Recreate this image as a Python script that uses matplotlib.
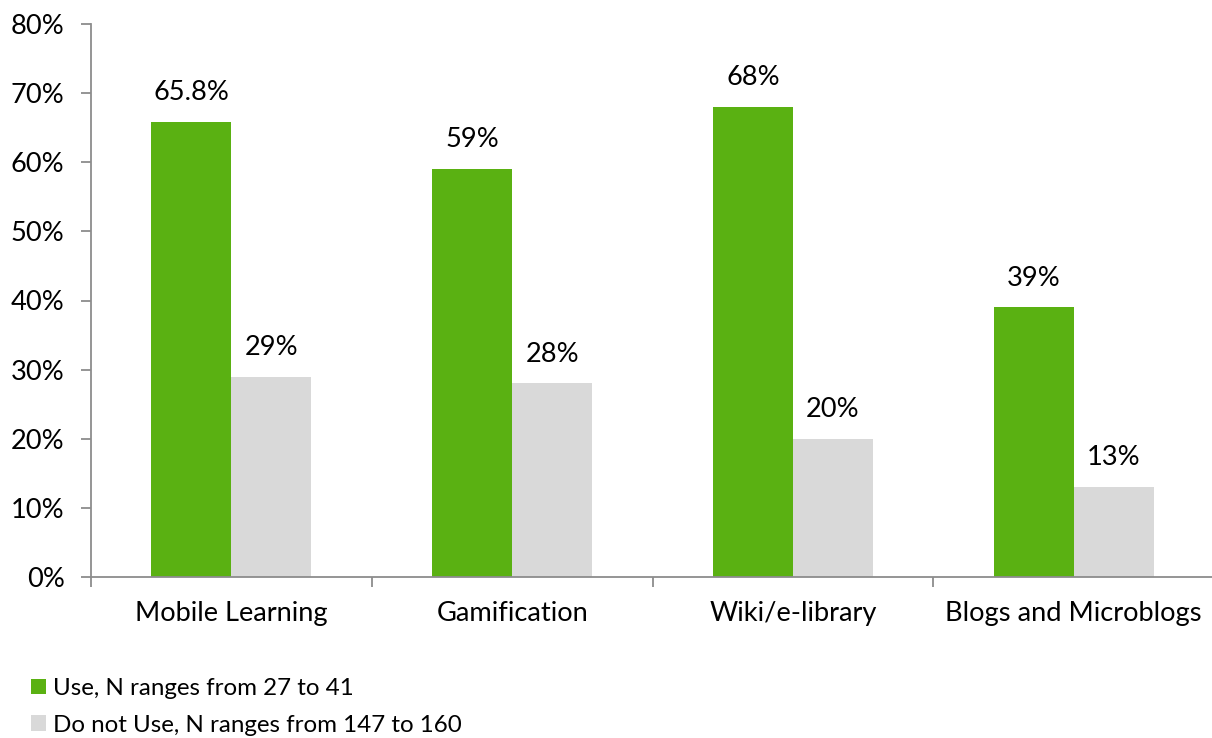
import matplotlib
matplotlib.use("Agg")
import matplotlib.pyplot as plt
import numpy as np
from matplotlib.patches import Patch

plt.rcParams['font.family'] = ['Lato', 'DejaVu Sans']

categories = ["Mobile Learning", "Gamification", "Wiki/e-library", "Blogs and Microblogs"]
use_values = [65.8, 59, 68, 39]
not_use_values = [29, 28, 20, 13]
use_labels = ["65.8%", "59%", "68%", "39%"]
not_use_labels = ["29%", "28%", "20%", "13%"]
series_names = ["Use, N ranges from 27 to 41", "Do not Use, N ranges from 147 to 160"]

GREEN = "#5AB112"
GREY = "#D9D9D9"
AXIS = "#8C8C8C"
FS = 19.6

fig = plt.figure(figsize=(12.12, 7.38), dpi=100)
ax = fig.add_axes([91/1212, 1 - 577/738, 1123/1212, (577 - 24)/738])

x = np.arange(len(categories))
w = 0.285
b1 = ax.bar(x - w/2, use_values, w, color=GREEN)
b2 = ax.bar(x + w/2, not_use_values, w, color=GREY)

for bars, labels in ((b1, use_labels), (b2, not_use_labels)):
    for bar, lab in zip(bars, labels):
        ax.annotate(lab, (bar.get_x() + bar.get_width()/2, bar.get_height()),
                    xytext=(0, 12), textcoords="offset points",
                    ha="center", va="bottom", fontsize=FS, color="#000000")

ax.set_xlim(-0.5, len(categories) - 0.5)
ax.set_ylim(0, 80)
ax.set_yticks(np.arange(0, 81, 10))
ax.set_yticklabels([f"{v}%" for v in range(0, 81, 10)], fontsize=FS)

ax.set_xticks(x)
ax.set_xticklabels(categories, fontsize=FS)
ax.tick_params(axis="x", length=0, pad=17)
ax.set_xticks(np.arange(-0.5, len(categories) + 0.5, 1), minor=True)
ax.tick_params(axis="x", which="minor", length=7, color=AXIS, width=1.3)
ax.tick_params(axis="y", length=7, color=AXIS, width=1.3, pad=12)

for s in ("top", "right"):
    ax.spines[s].set_visible(False)
for s in ("left", "bottom"):
    ax.spines[s].set_color(AXIS)
    ax.spines[s].set_linewidth(1.3)

handles = [Patch(facecolor=GREEN), Patch(facecolor=GREY)]
fig.legend(handles, series_names, loc="upper left", bbox_to_anchor=(31/1212, 1 - 678/738),
           frameon=False, fontsize=17.4, handlelength=0.62, handleheight=0.62,
           handletextpad=0.3, labelspacing=0.65, borderaxespad=0, borderpad=0)

fig.savefig("out.png", dpi=100)
